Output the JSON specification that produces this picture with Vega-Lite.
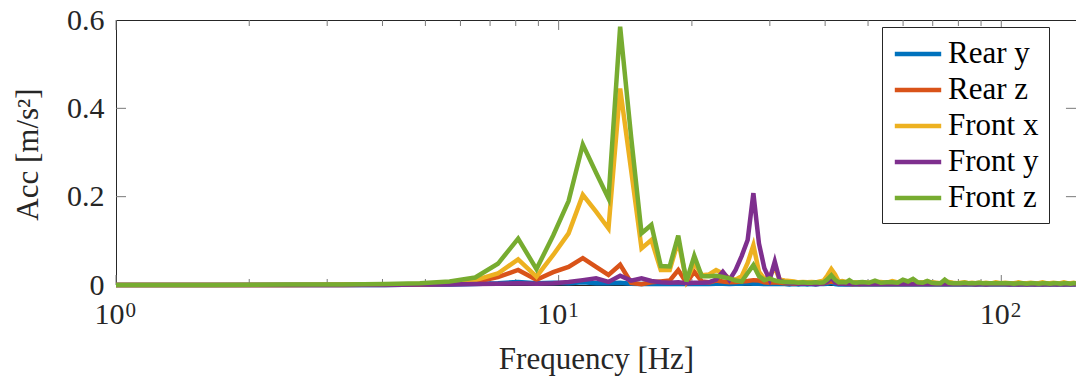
{
"$schema": "https://vega.github.io/schema/vega-lite/v6.json",
"width": 960, "height": 265,
"autosize": {"type": "none"},
"padding": {"left": 116, "top": 20, "right": 0, "bottom": 93},
"background": "white",
"datasets": {
 "majorX": [{"t": 1}, {"t": 10}, {"t": 100}],
 "minorX": [{"t": 2}, {"t": 3}, {"t": 4}, {"t": 5}, {"t": 6}, {"t": 7}, {"t": 8}, {"t": 9}, {"t": 20}, {"t": 30}, {"t": 40}, {"t": 50}, {"t": 60}, {"t": 70}, {"t": 80}, {"t": 90}],
 "majorY": [{"t": 0.2}, {"t": 0.4}],
 "acc": [
{"f":0.81,"Rear y":0,"Rear z":0,"Front x":0,"Front y":0,"Front z":0},
{"f":1.62,"Rear y":0,"Rear z":0,"Front x":0,"Front y":0,"Front z":0},
{"f":2.43,"Rear y":0,"Rear z":0,"Front x":0,"Front y":0,"Front z":0.001},
{"f":3.24,"Rear y":0,"Rear z":0,"Front x":0.001,"Front y":0,"Front z":0.001},
{"f":4.05,"Rear y":0,"Rear z":0.001,"Front x":0.001,"Front y":0,"Front z":0.002},
{"f":4.86,"Rear y":0.001,"Rear z":0.001,"Front x":0.002,"Front y":0.001,"Front z":0.004},
{"f":5.67,"Rear y":0.001,"Rear z":0.003,"Front x":0.004,"Front y":0.001,"Front z":0.008},
{"f":6.48,"Rear y":0.002,"Rear z":0.007,"Front x":0.011,"Front y":0.002,"Front z":0.017},
{"f":7.29,"Rear y":0.004,"Rear z":0.018,"Front x":0.026,"Front y":0.003,"Front z":0.048},
{"f":8.10,"Rear y":0.007,"Rear z":0.034,"Front x":0.058,"Front y":0.004,"Front z":0.105},
{"f":8.91,"Rear y":0.004,"Rear z":0.012,"Front x":0.019,"Front y":0.003,"Front z":0.036},
{"f":9.72,"Rear y":0.005,"Rear z":0.029,"Front x":0.068,"Front y":0.004,"Front z":0.112},
{"f":10.53,"Rear y":0.004,"Rear z":0.041,"Front x":0.117,"Front y":0.007,"Front z":0.19},
{"f":11.34,"Rear y":0.006,"Rear z":0.061,"Front x":0.204,"Front y":0.011,"Front z":0.318},
{"f":12.15,"Rear y":0.004,"Rear z":0.041,"Front x":0.166,"Front y":0.015,"Front z":0.254},
{"f":12.96,"Rear y":0.004,"Rear z":0.023,"Front x":0.128,"Front y":0.007,"Front z":0.196},
{"f":13.77,"Rear y":0.005,"Rear z":0.046,"Front x":0.445,"Front y":0.021,"Front z":0.585},
{"f":14.58,"Rear y":0.003,"Rear z":0.005,"Front x":0.26,"Front y":0.01,"Front z":0.335},
{"f":15.39,"Rear y":0.002,"Rear z":0.002,"Front x":0.083,"Front y":0.015,"Front z":0.117},
{"f":16.20,"Rear y":0.003,"Rear z":0.006,"Front x":0.102,"Front y":0.009,"Front z":0.136},
{"f":17.01,"Rear y":0.002,"Rear z":0.008,"Front x":0.034,"Front y":0.006,"Front z":0.043},
{"f":17.82,"Rear y":0.003,"Rear z":0.01,"Front x":0.034,"Front y":0.005,"Front z":0.042},
{"f":18.63,"Rear y":0.002,"Rear z":0.034,"Front x":0.1,"Front y":0.006,"Front z":0.112},
{"f":19.44,"Rear y":0.002,"Rear z":0.005,"Front x":0.01,"Front y":0.004,"Front z":0.008},
{"f":20.25,"Rear y":0.003,"Rear z":0.03,"Front x":0.05,"Front y":0.005,"Front z":0.066},
{"f":21.06,"Rear y":0.002,"Rear z":0.008,"Front x":0.022,"Front y":0.005,"Front z":0.02},
{"f":21.87,"Rear y":0.002,"Rear z":0.006,"Front x":0.024,"Front y":0.006,"Front z":0.02},
{"f":22.68,"Rear y":0.003,"Rear z":0.01,"Front x":0.034,"Front y":0.012,"Front z":0.021},
{"f":23.49,"Rear y":0.003,"Rear z":0.008,"Front x":0.026,"Front y":0.03,"Front z":0.018},
{"f":24.30,"Rear y":0.002,"Rear z":0.006,"Front x":0.015,"Front y":0.011,"Front z":0.015},
{"f":25.11,"Rear y":0.003,"Rear z":0.007,"Front x":0.012,"Front y":0.034,"Front z":0.01},
{"f":25.92,"Rear y":0.003,"Rear z":0.008,"Front x":0.02,"Front y":0.066,"Front z":0.008},
{"f":26.73,"Rear y":0.004,"Rear z":0.009,"Front x":0.05,"Front y":0.102,"Front z":0.027},
{"f":27.54,"Rear y":0.003,"Rear z":0.011,"Front x":0.09,"Front y":0.208,"Front z":0.045},
{"f":28.35,"Rear y":0.003,"Rear z":0.01,"Front x":0.03,"Front y":0.094,"Front z":0.02},
{"f":29.16,"Rear y":0.002,"Rear z":0.006,"Front x":0.014,"Front y":0.038,"Front z":0.011},
{"f":29.97,"Rear y":0.002,"Rear z":0.005,"Front x":0.02,"Front y":0.012,"Front z":0.015},
{"f":30.78,"Rear y":0.002,"Rear z":0.006,"Front x":0.04,"Front y":0.053,"Front z":0.01},
{"f":31.59,"Rear y":0.002,"Rear z":0.005,"Front x":0.012,"Front y":0.01,"Front z":0.008},
{"f":32.40,"Rear y":0.002,"Rear z":0.004,"Front x":0.01,"Front y":0.006,"Front z":0.007},
{"f":33.21,"Rear y":0.001,"Rear z":0.004,"Front x":0.009,"Front y":0.004,"Front z":0.006},
{"f":34.02,"Rear y":0.002,"Rear z":0.003,"Front x":0.008,"Front y":0.004,"Front z":0.006},
{"f":34.83,"Rear y":0.001,"Rear z":0.003,"Front x":0.006,"Front y":0.003,"Front z":0.005},
{"f":35.64,"Rear y":0.002,"Rear z":0.004,"Front x":0.007,"Front y":0.003,"Front z":0.006},
{"f":36.45,"Rear y":0.001,"Rear z":0.003,"Front x":0.006,"Front y":0.003,"Front z":0.005},
{"f":37.26,"Rear y":0.002,"Rear z":0.003,"Front x":0.007,"Front y":0.003,"Front z":0.005},
{"f":38.07,"Rear y":0.001,"Rear z":0.003,"Front x":0.006,"Front y":0.002,"Front z":0.006},
{"f":38.88,"Rear y":0.002,"Rear z":0.004,"Front x":0.008,"Front y":0.003,"Front z":0.005},
{"f":39.69,"Rear y":0.002,"Rear z":0.004,"Front x":0.01,"Front y":0.004,"Front z":0.006},
{"f":40.50,"Rear y":0.003,"Rear z":0.006,"Front x":0.022,"Front y":0.008,"Front z":0.013},
{"f":41.31,"Rear y":0.005,"Rear z":0.008,"Front x":0.036,"Front y":0.018,"Front z":0.022},
{"f":42.12,"Rear y":0.002,"Rear z":0.006,"Front x":0.024,"Front y":0.006,"Front z":0.012},
{"f":42.93,"Rear y":0.001,"Rear z":0.004,"Front x":0.008,"Front y":0.003,"Front z":0.006},
{"f":43.74,"Rear y":0.001,"Rear z":0.003,"Front x":0.009,"Front y":0.003,"Front z":0.007},
{"f":44.55,"Rear y":0.001,"Rear z":0.003,"Front x":0.007,"Front y":0.002,"Front z":0.006},
{"f":45.36,"Rear y":0.001,"Rear z":0.003,"Front x":0.006,"Front y":0.002,"Front z":0.011},
{"f":46.17,"Rear y":0.001,"Rear z":0.002,"Front x":0.005,"Front y":0.002,"Front z":0.006},
{"f":46.98,"Rear y":0.001,"Rear z":0.003,"Front x":0.006,"Front y":0.003,"Front z":0.005},
{"f":47.79,"Rear y":0.001,"Rear z":0.002,"Front x":0.005,"Front y":0.002,"Front z":0.006},
{"f":48.60,"Rear y":0.001,"Rear z":0.003,"Front x":0.006,"Front y":0.002,"Front z":0.007},
{"f":50.22,"Rear y":0.001,"Rear z":0.002,"Front x":0.005,"Front y":0.002,"Front z":0.005},
{"f":51.84,"Rear y":0.001,"Rear z":0.003,"Front x":0.006,"Front y":0.003,"Front z":0.01},
{"f":53.46,"Rear y":0.001,"Rear z":0.002,"Front x":0.007,"Front y":0.002,"Front z":0.005},
{"f":55.08,"Rear y":0.001,"Rear z":0.002,"Front x":0.005,"Front y":0.002,"Front z":0.006},
{"f":56.70,"Rear y":0.001,"Rear z":0.003,"Front x":0.009,"Front y":0.003,"Front z":0.006},
{"f":58.32,"Rear y":0.001,"Rear z":0.002,"Front x":0.006,"Front y":0.002,"Front z":0.005},
{"f":59.94,"Rear y":0.001,"Rear z":0.002,"Front x":0.005,"Front y":0.002,"Front z":0.012},
{"f":61.56,"Rear y":0.001,"Rear z":0.002,"Front x":0.006,"Front y":0.003,"Front z":0.008},
{"f":63.18,"Rear y":0.001,"Rear z":0.003,"Front x":0.007,"Front y":0.002,"Front z":0.014},
{"f":64.80,"Rear y":0.001,"Rear z":0.002,"Front x":0.005,"Front y":0.002,"Front z":0.006},
{"f":66.42,"Rear y":0.001,"Rear z":0.002,"Front x":0.006,"Front y":0.002,"Front z":0.005},
{"f":68.04,"Rear y":0.001,"Rear z":0.002,"Front x":0.008,"Front y":0.002,"Front z":0.009},
{"f":69.66,"Rear y":0.001,"Rear z":0.002,"Front x":0.006,"Front y":0.002,"Front z":0.005},
{"f":71.28,"Rear y":0.001,"Rear z":0.002,"Front x":0.005,"Front y":0.002,"Front z":0.004},
{"f":72.90,"Rear y":0.001,"Rear z":0.002,"Front x":0.004,"Front y":0.002,"Front z":0.004},
{"f":74.52,"Rear y":0.001,"Rear z":0.002,"Front x":0.006,"Front y":0.002,"Front z":0.012},
{"f":76.14,"Rear y":0.001,"Rear z":0.002,"Front x":0.007,"Front y":0.002,"Front z":0.005},
{"f":77.76,"Rear y":0.001,"Rear z":0.002,"Front x":0.005,"Front y":0.002,"Front z":0.004},
{"f":79.38,"Rear y":0.001,"Rear z":0.002,"Front x":0.004,"Front y":0.002,"Front z":0.004},
{"f":81.00,"Rear y":0.001,"Rear z":0.002,"Front x":0.005,"Front y":0.002,"Front z":0.004},
{"f":82.62,"Rear y":0.001,"Rear z":0.002,"Front x":0.006,"Front y":0.002,"Front z":0.005},
{"f":84.24,"Rear y":0.001,"Rear z":0.002,"Front x":0.004,"Front y":0.002,"Front z":0.004},
{"f":85.86,"Rear y":0.001,"Rear z":0.002,"Front x":0.005,"Front y":0.002,"Front z":0.004},
{"f":87.48,"Rear y":0.001,"Rear z":0.002,"Front x":0.004,"Front y":0.001,"Front z":0.004},
{"f":89.10,"Rear y":0.001,"Rear z":0.002,"Front x":0.005,"Front y":0.002,"Front z":0.005},
{"f":90.72,"Rear y":0.001,"Rear z":0.002,"Front x":0.004,"Front y":0.002,"Front z":0.004},
{"f":92.34,"Rear y":0.001,"Rear z":0.002,"Front x":0.005,"Front y":0.001,"Front z":0.004},
{"f":93.96,"Rear y":0.001,"Rear z":0.002,"Front x":0.004,"Front y":0.002,"Front z":0.004},
{"f":95.58,"Rear y":0.001,"Rear z":0.002,"Front x":0.004,"Front y":0.002,"Front z":0.004},
{"f":97.20,"Rear y":0.001,"Rear z":0.002,"Front x":0.006,"Front y":0.002,"Front z":0.004},
{"f":99.63,"Rear y":0.001,"Rear z":0.002,"Front x":0.004,"Front y":0.002,"Front z":0.004},
{"f":102.06,"Rear y":0.001,"Rear z":0.002,"Front x":0.005,"Front y":0.002,"Front z":0.004},
{"f":104.49,"Rear y":0.001,"Rear z":0.002,"Front x":0.004,"Front y":0.001,"Front z":0.004},
{"f":106.92,"Rear y":0.001,"Rear z":0.002,"Front x":0.004,"Front y":0.002,"Front z":0.003},
{"f":109.35,"Rear y":0.001,"Rear z":0.002,"Front x":0.006,"Front y":0.001,"Front z":0.004},
{"f":111.78,"Rear y":0.001,"Rear z":0.002,"Front x":0.004,"Front y":0.002,"Front z":0.004},
{"f":114.21,"Rear y":0.001,"Rear z":0.002,"Front x":0.004,"Front y":0.001,"Front z":0.003},
{"f":116.64,"Rear y":0.001,"Rear z":0.002,"Front x":0.005,"Front y":0.002,"Front z":0.004},
{"f":119.07,"Rear y":0.001,"Rear z":0.002,"Front x":0.004,"Front y":0.001,"Front z":0.004},
{"f":121.50,"Rear y":0.001,"Rear z":0.002,"Front x":0.004,"Front y":0.002,"Front z":0.003},
{"f":123.93,"Rear y":0.001,"Rear z":0.002,"Front x":0.006,"Front y":0.001,"Front z":0.004},
{"f":126.36,"Rear y":0.001,"Rear z":0.002,"Front x":0.004,"Front y":0.002,"Front z":0.004},
{"f":128.79,"Rear y":0.001,"Rear z":0.002,"Front x":0.004,"Front y":0.001,"Front z":0.003},
{"f":131.22,"Rear y":0.001,"Rear z":0.002,"Front x":0.005,"Front y":0.002,"Front z":0.004},
{"f":133.65,"Rear y":0.001,"Rear z":0.002,"Front x":0.004,"Front y":0.001,"Front z":0.004},
{"f":136.08,"Rear y":0.001,"Rear z":0.002,"Front x":0.004,"Front y":0.002,"Front z":0.003},
{"f":138.51,"Rear y":0.001,"Rear z":0.002,"Front x":0.006,"Front y":0.001,"Front z":0.004},
{"f":140.94,"Rear y":0.001,"Rear z":0.002,"Front x":0.004,"Front y":0.002,"Front z":0.004},
{"f":143.37,"Rear y":0.001,"Rear z":0.002,"Front x":0.004,"Front y":0.001,"Front z":0.003},
{"f":145.80,"Rear y":0.001,"Rear z":0.002,"Front x":0.005,"Front y":0.002,"Front z":0.004},
{"f":147.42,"Rear y":0.001,"Rear z":0.002,"Front x":0.004,"Front y":0.001,"Front z":0.004}
 ]
},
"layer": [
 {
  "data": {"name": "majorX"},
  "mark": {"type": "rule", "color": "#7a7a7a", "strokeWidth": 1},
  "encoding": {
   "x": {"field": "t", "type": "quantitative", "scale": {"type": "log", "domain": [1, 147.5], "clamp": true}, "axis": null},
   "y": {"datum": 0, "type": "quantitative", "scale": {"domain": [0, 0.6], "nice": false}, "axis": null},
   "y2": {"datum": 0.0226}
  }
 },
 {
  "data": {"name": "majorX"},
  "mark": {"type": "rule", "color": "#7a7a7a", "strokeWidth": 1},
  "encoding": {
   "x": {"field": "t", "type": "quantitative", "scale": {"type": "log", "domain": [1, 147.5], "clamp": true}, "axis": null},
   "y": {"datum": 0.6, "type": "quantitative", "scale": {"domain": [0, 0.6], "nice": false}, "axis": null},
   "y2": {"datum": 0.5774}
  }
 },
 {
  "data": {"name": "minorX"},
  "mark": {"type": "rule", "color": "#7a7a7a", "strokeWidth": 1},
  "encoding": {
   "x": {"field": "t", "type": "quantitative", "scale": {"type": "log", "domain": [1, 147.5], "clamp": true}, "axis": null},
   "y": {"datum": 0, "type": "quantitative", "scale": {"domain": [0, 0.6], "nice": false}, "axis": null},
   "y2": {"datum": 0.0136}
  }
 },
 {
  "data": {"name": "minorX"},
  "mark": {"type": "rule", "color": "#7a7a7a", "strokeWidth": 1},
  "encoding": {
   "x": {"field": "t", "type": "quantitative", "scale": {"type": "log", "domain": [1, 147.5], "clamp": true}, "axis": null},
   "y": {"datum": 0.6, "type": "quantitative", "scale": {"domain": [0, 0.6], "nice": false}, "axis": null},
   "y2": {"datum": 0.5864}
  }
 },
 {
  "data": {"name": "majorY"},
  "mark": {"type": "rule", "color": "#7a7a7a", "strokeWidth": 1},
  "encoding": {
   "y": {"field": "t", "type": "quantitative", "scale": {"domain": [0, 0.6], "nice": false}, "axis": null},
   "x": {"datum": 1, "type": "quantitative", "scale": {"type": "log", "domain": [1, 147.5], "clamp": true}, "axis": null},
   "x2": {"datum": 1.0534}
  }
 },
 {
  "data": {"name": "majorY"},
  "mark": {"type": "rule", "color": "#7a7a7a", "strokeWidth": 1},
  "encoding": {
   "y": {"field": "t", "type": "quantitative", "scale": {"domain": [0, 0.6], "nice": false}, "axis": null},
   "x": {"datum": 147.5, "type": "quantitative", "scale": {"type": "log", "domain": [1, 147.5], "clamp": true}, "axis": null},
   "x2": {"datum": 140.0}
  }
 },
 {
  "data": {"name": "acc"},
  "transform": [{"fold": ["Rear y", "Rear z", "Front x", "Front y", "Front z"], "as": ["s", "v"]}],
  "mark": {"type": "line", "strokeWidth": 4.5, "clip": false},
  "encoding": {
   "x": {"field": "f", "type": "quantitative", "scale": {"type": "log", "domain": [1, 147.5], "clamp": true},
     "axis": {"orient": "bottom", "values": [1, 10, 100], "ticks": false, "labelExpr": "'10'", "labelAlign": "right", "labelOffset": 8, "labelBaseline": "alphabetic", "labelPadding": 38, "labelFontSize": 30, "labelFlush": false, "labelOverlap": false,
       "title": "Frequency [Hz]", "titleFontSize": 31, "titleFontWeight": "normal", "titleBaseline": "alphabetic", "titleY": 83.5, "titleX": 480, "titleAlign": "center"}},
   "y": {"field": "v", "type": "quantitative", "scale": {"domain": [0, 0.6], "nice": false},
     "axis": {"orient": "left", "values": [0, 0.2, 0.4, 0.6], "ticks": false, "format": "~g", "labelPadding": 12, "labelFontSize": 30, "labelFlush": false, "labelOverlap": false,
       "title": "Acc [m/s²]", "titleFontSize": 31, "titleFontWeight": "normal", "titleBaseline": "alphabetic", "titleX": -79, "titleY": 134, "titleAlign": "center", "titleAngle": -90}},
   "color": {"field": "s", "type": "nominal",
     "scale": {"domain": ["Rear y", "Rear z", "Front x", "Front y", "Front z"], "range": ["#0072BD", "#D95319", "#EDB120", "#7E2F8E", "#77AC30"]},
     "legend": {"orient": "none", "legendX": 766, "legendY": 7, "title": null, "symbolType": "M-1.6,0H1.6", "symbolSize": 841, "symbolStrokeWidth": 4.5, "symbolOffset": 9, "labelOffset": 13, "labelFontSize": 31, "labelColor": "black", "rowPadding": 4, "padding": 10, "fillColor": "white", "strokeColor": "#262626", "labelLimit": 0}}
  }
 },
 {
  "data": {"name": "majorX"},
  "mark": {"type": "point", "opacity": 0},
  "encoding": {
   "x": {"field": "t", "type": "quantitative", "scale": {"type": "log", "domain": [1, 147.5], "clamp": true},
     "axis": {"orient": "bottom", "values": [1, 10, 100], "ticks": false, "labelExpr": "datum.value < 5 ? '0' : datum.value < 50 ? '1' : '2'", "labelAlign": "left", "labelOffset": 9, "labelBaseline": "alphabetic", "labelPadding": 31.5, "labelFontSize": 21, "labelFlush": false, "labelOverlap": false, "title": null}},
   "y": {"datum": 0, "type": "quantitative", "scale": {"domain": [0, 0.6], "nice": false}, "axis": null}
  }
 }
],
"resolve": {"axis": {"x": "independent", "y": "independent"}},
"config": {
 "font": "Liberation Serif",
 "view": {"stroke": "#262626", "strokeWidth": 1},
 "axis": {"domain": false, "grid": false, "labelColor": "#262626", "titleColor": "#262626", "labelFont": "Liberation Serif", "titleFont": "Liberation Serif"},
 "legend": {"labelFont": "Liberation Serif"}
}
}
